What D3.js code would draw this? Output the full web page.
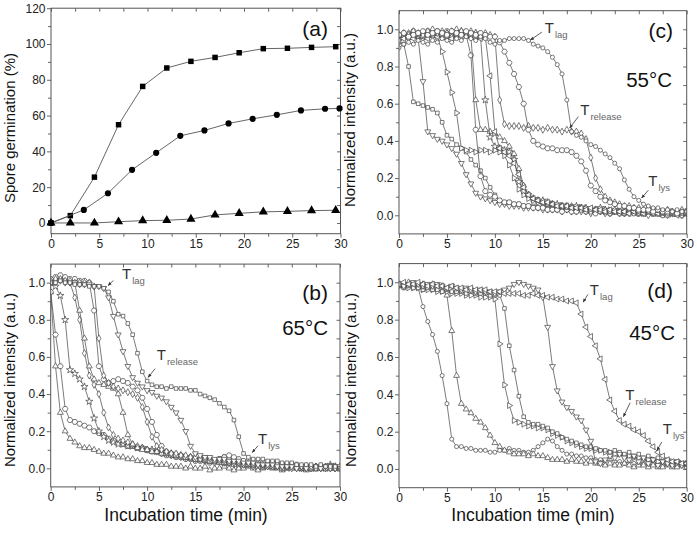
<!DOCTYPE html>
<html><head><meta charset="utf-8">
<script src="https://cdn.jsdelivr.net/npm/d3@7"></script>
<style>body{margin:0;background:#fff}svg{display:block}</style>
</head><body>
<svg id="chart" width="697" height="537"></svg>
<script>
// ---------- DATA ----------
const xTicks = [0, 5, 10, 15, 20, 25, 30];
const xMinorTicks = [2.5, 7.5, 12.5, 17.5, 22.5, 27.5];
const germTicks = [0, 20, 40, 60, 80, 100, 120];
const germMinorTicks = [10, 30, 50, 70, 90, 110];
const intTicks = [0, 0.2, 0.4, 0.6, 0.8, 1.0];
const intMinorTicks = [0.1, 0.3, 0.5, 0.7, 0.9];

// panel (a): spore germination (%)
const sqX = [0, 2, 4.5, 7, 9.5, 12, 14.5, 17, 19.5, 22, 24.5, 27, 29.5];
const sqY = [0, 4.1, 25.6, 54.9, 76.3, 86.6, 90.3, 92.5, 95.1, 97.4, 97.6, 98.1, 98.5];
const ciX = [0, 3.4, 5.9, 8.4, 10.9, 13.4, 15.9, 18.4, 20.9, 23.4, 25.9, 28.4, 29.9];
const ciY = [0, 7.3, 16.6, 29.7, 39.2, 48.7, 51.7, 55.6, 58.2, 60.4, 62.9, 63.8, 64.0];
const trX = [0, 2, 4.5, 7, 9.5, 12, 14.5, 17, 19.5, 22, 24.5, 27, 29.5];
const trY = [0, 0, 0, 0.7, 1.3, 1.5, 2.2, 4.5, 5.4, 6.2, 6.5, 6.9, 7.1];

// time axis of the intensity traces (min)
const times = [0,0.5,1,1.5,2,2.5,3,3.5,4,4.5,5,5.5,6,6.5,7,7.5,8,8.5,9,9.5,10,10.5,11,11.5,12,12.5,13,13.5,14,14.5,15,15.5,16,16.5,17,17.5,18,18.5,19,19.5,20,20.5,21,21.5,22,22.5,23,23.5,24,24.5,25,25.5,26,26.5,27,27.5,28,28.5,29,29.5,30];

// panel (b) 65 °C
const b1 = [.95,.55,.30,.20,.16,.14,.12,.11,.11,.10, .09,.08,.08,.07,.06,.06,.05,.05,.04,.04, .03,.03,.02,.02,.02,.01,.01,.01,.00,.01, .00,.00,.01,-.01,.00,.00,.01,.00,-.01,.00, .00,.01,.00,-.01,.00,.01,.00,.00,-.01,.00, .01,.00,.00,-.01,.00,.01,.00,.00,.01,.00, .00];
const b2 = [.95,.72,.55,.32,.26,.25,.24,.23,.22,.20, .19,.18,.16,.15,.14,.13,.12,.12,.11,.11, .10,.09,.09,.08,.07,.07,.06,.06,.05,.05, .04,.04,.04,.03,.04,.05,.06,.06,.05,.04, .03,.03,.02,.03,.02,.02,.01,.02,.01,.01, .02,.01,.00,.01,.01,.00,.01,.00,.00,.01, .00];
const b3 = [1.00,.98,.93,.80,.53,.51,.48,.44,.36,.27, .20,.17,.15,.14,.13,.13,.12,.12,.11,.11, .10,.10,.09,.09,.08,.08,.07,.07,.06,.06, .05,.05,.05,.04,.04,.04,.03,.03,.03,.02, .03,.02,.02,.02,.01,.02,.01,.01,.01,.00, .01,.01,.00,.01,.00,.00,.01,.00,.02,.01, .00];
const b4 = [1.00,1.01,1.02,1.01,1.00,.92,.80,.62,.50,.45, .40,.30,.22,.18,.16,.15,.14,.13,.12,.11, .10,.10,.09,.08,.08,.07,.07,.06,.06,.05, .05,.05,.04,.04,.03,.04,.03,.03,.02,.03, .02,.02,.01,.02,.01,.01,.02,.01,.00,.01, .01,.00,.00,.01,.00,.01,.00,.00,.01,.00, .00];
const b5 = [1.00,1.02,1.03,1.02,1.01,1.00,.85,.70,.55,.48, .46,.45,.44,.43,.40,.30,.18,.13,.11,.10, .10,.09,.09,.08,.08,.07,.07,.06,.06,.06, .05,.05,.04,.04,.04,.03,.03,.03,.02,.03, .02,.02,.02,.01,.02,.01,.01,.01,.00,.01, .00,.01,.00,.00,.01,.00,.00,.01,.00,.00, .01];
const b6 = [1.02,1.03,1.04,1.03,1.02,1.02,1.01,1.01,1.00,.85, .55,.48,.46,.47,.48,.47,.46,.44,.42,.38, .32,.25,.18,.12,.09,.08,.07,.07,.06,.06, .05,.05,.05,.04,.04,.05,.06,.07,.06,.05, .04,.04,.03,.03,.03,.02,.03,.02,.02,.02, .01,.02,.01,.01,.00,.01,.01,.00,.01,.00, .00];
const b7 = [1.01,1.02,1.02,1.01,1.01,1.00,1.00,1.00,1.00,.98, .70,.50,.46,.44,.43,.42,.41,.40,.38,.33, .25,.17,.12,.10,.09,.08,.08,.07,.07,.06, .06,.05,.05,.05,.04,.04,.04,.03,.03,.03, .02,.03,.02,.02,.02,.01,.01,.02,.01,.01, .00,.01,.01,.00,.00,.01,.00,.01,.00,.00, .01];
const b8 = [1.00,1.00,1.01,1.00,1.00,1.00,.99,.99,.99,.98, .98,.97,.92,.82,.72,.63,.55,.49,.46,.44, .42,.41,.39,.38,.36,.33,.30,.26,.20,.12, .08,.07,.06,.06,.05,.05,.05,.04,.04,.04, .03,.03,.03,.02,.02,.02,.02,.01,.01,.01, .01,.00,.01,.00,.01,.00,.00,.01,.00,.00, .01];
const b9 = [1.00,1.00,1.01,1.00,1.00,.99,.99,.99,.98,.98, .98,.97,.95,.90,.83,.82,.78,.72,.62,.52, .47,.45,.44,.44,.43,.44,.43,.43,.43,.42, .42,.40,.39,.38,.37,.35,.33,.31,.26,.17, .08,.06,.05,.05,.05,.04,.04,.04,.03,.03, .03,.02,.02,.02,.02,.01,.02,.01,.01,.01, .00];

// panel (c) 55 °C
const c1 = [.93,.92,.80,.61,.60,.59,.58,.57,.55,.50, .43,.41,.38,.36,.34,.30,.27,.24,.20,.15, .11,.08,.07,.07,.06,.06,.05,.05,.05,.04, .04,.04,.03,.04,.03,.03,.03,.02,.03,.02, .02,.03,.02,.02,.01,.02,.02,.01,.02,.01, .01,.02,.01,.01,.01,.00,.01,.01,.02,.01, .01];
const c2 = [.95,.96,.95,.96,.95,.72,.45,.43,.41,.40, .38,.36,.33,.28,.22,.17,.12,.10,.09,.08, .07,.06,.06,.05,.05,.05,.04,.04,.04,.04, .03,.03,.03,.03,.02,.03,.02,.02,.02,.02, .01,.02,.02,.01,.01,.02,.01,.01,.01,.02, .01,.01,.00,.01,.01,.01,.00,.01,.01,.00, .01];
const c3 = [.97,.96,.97,.98,.96,.97,.98,.97,.96,.88, .77,.66,.55,.36,.35,.35,.34,.35,.35,.34, .35,.34,.32,.27,.20,.14,.11,.09,.08,.07, .07,.06,.06,.05,.05,.05,.04,.04,.04,.04, .03,.03,.03,.02,.03,.02,.02,.03,.02,.02, .01,.02,.02,.01,.02,.01,.01,.02,.01,.01, .02];
const c4 = [.96,.98,.97,.99,.98,.97,.99,.98,.99,.98, .99,.98,.98,.97,.97,.86,.46,.21,.13,.11, .10,.08,.07,.07,.06,.06,.05,.05,.04,.04, .04,.03,.03,.03,.02,.03,.02,.02,.03,.02, .02,.01,.02,.02,.01,.02,.01,.01,.02,.01, .01,.01,.02,.01,.01,.00,.01,.01,.01,.00, .01];
const c5 = [.95,.96,.98,.97,.96,.98,.97,.99,.98,.97, .98,.96,.97,.98,.97,.96,.62,.46,.46,.45, .44,.42,.40,.37,.33,.25,.16,.11,.09,.08, .07,.06,.06,.05,.05,.04,.05,.04,.04,.03, .03,.03,.02,.03,.02,.02,.02,.01,.02,.02, .01,.01,.02,.01,.01,.01,.00,.01,.01,.02, .01];
const c6 = [.96,.97,.96,.98,.97,.96,.98,.97,.98,.97, .96,.98,.97,.99,.98,.97,.98,.96,.62,.42, .37,.36,.35,.34,.30,.18,.13,.11,.09,.08, .08,.07,.06,.06,.05,.05,.04,.05,.04,.04, .03,.03,.04,.03,.02,.03,.02,.02,.03,.02, .02,.01,.02,.02,.01,.01,.02,.01,.01,.01, .02];
const c7 = [.94,.95,.96,.95,.97,.96,.95,.97,.96,.97, .96,.95,.97,.96,.98,.97,.96,.95,.96,.75, .45,.36,.34,.32,.28,.22,.15,.11,.09,.08, .07,.07,.06,.05,.05,.05,.04,.04,.04,.03, .04,.03,.03,.02,.03,.02,.02,.02,.01,.02, .02,.01,.02,.01,.01,.02,.01,.01,.00,.01, .01];
const c8 = [.97,.98,.97,.99,.98,.97,.99,1.00,.98,.99, .98,.99,1.00,.99,.98,.99,.98,.97,.98,.97, .96,.62,.49,.48,.48,.48,.47,.48,.47,.47, .46,.47,.46,.46,.45,.46,.45,.45,.44,.41, .31,.20,.14,.10,.08,.07,.06,.05,.05,.04, .04,.03,.04,.03,.03,.02,.03,.02,.02,.03, .02];
const c9 = [.97,.98,.96,.97,.98,.99,.97,.98,.99,.98, .97,.99,.98,.97,.99,.98,.97,.98,.97,.96, .96,.93,.88,.82,.76,.69,.60,.46,.40,.38, .37,.36,.36,.35,.35,.35,.34,.32,.29,.24, .16,.13,.10,.08,.07,.06,.05,.05,.04,.04, .03,.03,.03,.02,.03,.02,.02,.02,.01,.02, .02];
const c10 = [.90,.92,.93,.92,.94,.93,.92,.94,.93,.95, .94,.93,.95,.94,.96,.95,.94,.96,.95,.93, .92,.94,.94,.95,.95,.95,.95,.94,.92,.91, .90,.88,.85,.81,.76,.62,.45,.43,.42,.40, .38,.37,.35,.33,.31,.28,.25,.19,.14,.10, .08,.06,.05,.04,.04,.03,.03,.02,.03,.02, .02];

// panel (d) 45 °C
const d1 = [.98,.97,.99,.98,.97,.87,.79,.72,.63,.50, .35,.16,.12,.12,.11,.11,.10,.10,.10,.09, .09,.10,.10,.11,.10,.10,.09,.09,.10,.12, .14,.16,.15,.12,.10,.08,.08,.07,.07,.06, .06,.05,.05,.04,.05,.04,.04,.03,.04,.03, .03,.03,.02,.03,.02,.02,.03,.02,.02,.02, .02];
const d2 = [.99,.98,1.00,.99,.98,.99,.98,.99,.98,.98, .93,.74,.50,.35,.32,.30,.27,.25,.22,.18, .14,.12,.10,.09,.08,.08,.08,.07,.08,.07, .07,.06,.05,.05,.05,.04,.05,.04,.04,.03, .04,.03,.03,.02,.03,.02,.02,.03,.02,.01, .02,.02,.01,.02,.01,.01,.02,.01,.01,.02, .01];
const d3v = [.98,.98,.97,.97,.97,.96,.96,.96,.95,.95, .95,.94,.94,.94,.93,.93,.93,.92,.92,.92, .91,.67,.45,.34,.26,.25,.24,.23,.23,.22, .22,.21,.19,.18,.17,.15,.14,.13,.12,.11, .11,.10,.10,.09,.09,.08,.08,.07,.07,.06, .06,.05,.05,.05,.04,.04,.03,.04,.03,.03, .03];
const d4 = [.98,.97,.98,.97,.97,.96,.97,.96,.96,.95, .96,.95,.95,.95,.94,.95,.94,.94,.94,.93, .93,.93,.86,.66,.53,.39,.28,.25,.24,.24, .23,.22,.20,.19,.17,.16,.15,.14,.13,.12, .12,.11,.10,.10,.09,.10,.09,.08,.09,.07, .08,.06,.07,.05,.06,.04,.05,.03,.04,.03, .03];
const d5 = [.99,.98,.99,1.00,.99,.98,.99,.98,.99,.98, .97,.98,.97,.96,.97,.96,.95,.96,.95,.95, .94,.95,.96,.97,.99,1.00,.99,.98,.97,.96, .92,.76,.55,.42,.36,.33,.31,.28,.26,.21, .15,.04,.03,.05,.07,.06,.08,.06,.05,.07, .04,.06,.03,.05,.02,.04,.03,.02,.04,.02, .03];
const d6 = [.99,1.00,.99,.99,1.00,.99,.98,.99,.98,.98, .97,.98,.97,.97,.96,.97,.96,.96,.96,.95, .95,.95,.94,.94,.94,.94,.93,.93,.94,.93, .93,.92,.92,.91,.91,.90,.90,.89,.83,.76, .71,.66,.59,.48,.37,.31,.26,.24,.23,.21, .20,.18,.15,.12,.09,.07,.05,.04,.04,.03, .03];

// ---------- DRAWING ----------
const FONT = '"Liberation Sans", Arial, Helvetica, sans-serif';
const INK = "#333";
const svg = d3.select("#chart").style("font-family", FONT);

const hexagon = { draw(ctx, size) {
  const r = Math.sqrt(2 * size / (3 * Math.sqrt(3)));
  for (let i = 0; i < 6; i++) {
    const a = Math.PI / 3 * i;
    const px = r * Math.cos(a), py = r * Math.sin(a);
    if (i === 0) ctx.moveTo(px, py); else ctx.lineTo(px, py);
  }
  ctx.closePath();
}};
const SYM = {
  circle: [d3.symbolCircle, 0, 13],
  hex: [hexagon, 0, 20],
  square: [d3.symbolSquare, 0, 13],
  triUp: [d3.symbolTriangle, 0, 15],
  triDown: [d3.symbolTriangle, 180, 15],
  triLeft: [d3.symbolTriangle, -90, 15],
  triRight: [d3.symbolTriangle, 90, 15],
  diamond: [d3.symbolDiamond, 0, 14],
  star: [d3.symbolStar, 0, 16]
};

function makePanel(L, ydom) {
  const x = d3.scaleLinear().domain([0, 30]).range([L.left, L.right]);
  const y = d3.scaleLinear().domain(ydom).range([L.bottom, L.top]);
  const g = svg.append("g");
  return { x, y, g, L };
}

function drawAxes(P, yMajor, yMinor, yFmt) {
  const { x, y, g, L } = P;
  const style = sel => {
    sel.select(".domain").remove();
    sel.selectAll("line").attr("stroke", "#555").attr("stroke-width", 0.9);
    sel.selectAll("text").attr("font-size", 12).attr("fill", "#222").attr("font-family", FONT);
  };
  g.append("g").attr("transform", `translate(0,${L.bottom})`)
    .call(d3.axisBottom(x).tickValues(xTicks).tickSize(4).tickPadding(1.5).tickFormat(d3.format("d"))).call(style);
  g.append("g").attr("transform", `translate(0,${L.bottom})`)
    .call(d3.axisBottom(x).tickValues(xMinorTicks).tickSize(3).tickFormat("")).call(style);
  g.append("g").attr("transform", `translate(0,${L.top})`)
    .call(d3.axisTop(x).tickValues(xTicks.concat(xMinorTicks)).tickSize(-3.5).tickFormat("")).call(style);
  g.append("g").attr("transform", `translate(${L.left},0)`)
    .call(d3.axisLeft(y).tickValues(yMajor).tickSize(4).tickPadding(1.5).tickFormat(yFmt)).call(style);
  g.append("g").attr("transform", `translate(${L.left},0)`)
    .call(d3.axisLeft(y).tickValues(yMinor).tickSize(3).tickFormat("")).call(style);
  g.append("g").attr("transform", `translate(${L.right},0)`)
    .call(d3.axisRight(y).tickValues(yMajor.concat(yMinor)).tickSize(-3.5).tickFormat("")).call(style);
  g.append("rect").attr("x", L.left).attr("y", L.top)
    .attr("width", L.right - L.left).attr("height", L.bottom - L.top)
    .attr("fill", "none").attr("stroke", "#555").attr("stroke-width", 1);
}

function drawTraces(P, list) {
  const { x, y, g } = P;
  const clipId = "clip" + Math.round(P.L.left) + Math.round(P.L.top);
  svg.append("clipPath").attr("id", clipId).append("rect")
    .attr("x", P.L.left).attr("y", P.L.top).attr("width", P.L.right - P.L.left).attr("height", P.L.bottom - P.L.top);
  const layer = g.append("g").attr("clip-path", `url(#${clipId})`);
  const line = d3.line().x((d, i) => x(times[i])).y(d => y(d));
  list.forEach(([vals, symName]) => {
    const [type, rot, size] = SYM[symName];
    const cg = layer.append("g");
    cg.append("path").attr("d", line(vals)).attr("fill", "none").attr("stroke", "#444").attr("stroke-width", 0.7);
    cg.selectAll("path.m").data(vals).join("path").attr("class", "m")
      .attr("d", d3.symbol().type(type).size(size))
      .attr("transform", (d, i) => `translate(${x(times[i])},${y(d)}) rotate(${rot})`)
      .attr("fill", "#fff").attr("stroke", "#444").attr("stroke-width", 0.7);
  });
}

// arrow marker
svg.append("defs").append("marker").attr("id", "arr").attr("viewBox", "0 0 10 10")
  .attr("refX", 9).attr("refY", 5).attr("markerWidth", 5).attr("markerHeight", 5).attr("orient", "auto")
  .append("path").attr("d", "M0,1 L10,5 L0,9 Z").attr("fill", "#333");

function annotate(P, items) {
  const { x, y, g } = P;
  items.forEach(a => {
    const t = g.append("text").attr("x", x(a.tx)).attr("y", y(a.ty)).attr("fill", INK).attr("font-size", 15);
    t.append("tspan").text("T");
    t.append("tspan").attr("dx", 1).attr("dy", 5).attr("font-size", 9.5).attr("fill", "#666").text(a.sub);
    g.append("line").attr("x1", x(a.ax1)).attr("y1", y(a.ay1)).attr("x2", x(a.ax2)).attr("y2", y(a.ay2))
      .attr("stroke", "#333").attr("stroke-width", 0.8).attr("marker-end", "url(#arr)");
  });
}

function label(P, txt, px, py, size) {
  P.g.append("text").attr("x", px).attr("y", py).attr("text-anchor", "end")
    .attr("font-size", size).attr("fill", "#111").text(txt);
}

// ----- panel (a)
const A = makePanel({ left: 51, right: 340.5, top: 8.2, bottom: 233.7 }, [-6, 120]);
drawAxes(A, germTicks, germMinorTicks, d3.format("d"));
(function () {
  const { x, y, g } = A;
  const series = [[sqX, sqY, d3.symbolSquare, 30], [ciX, ciY, d3.symbolCircle, 30], [trX, trY, d3.symbolTriangle, 36]];
  series.forEach(([xs, ys, type, size]) => {
    const pts = xs.map((v, i) => [v, ys[i]]);
    g.append("path").attr("d", d3.line().x(d => x(d[0])).y(d => y(d[1]))(pts))
      .attr("fill", "none").attr("stroke", "#555").attr("stroke-width", 0.9);
    g.selectAll(null).data(pts).join("path").attr("d", d3.symbol().type(type).size(size))
      .attr("transform", d => `translate(${x(d[0])},${y(d[1])})`).attr("fill", "#000");
  });
})();
label(A, "(a)", 328, 36, 21);

// ----- panel (b)
const B = makePanel({ left: 50.7, right: 340, top: 264.1, bottom: 486.9 }, [-0.1, 1.1]);
drawTraces(B, [[b1, "triUp"], [b2, "hex"], [b3, "star"], [b4, "diamond"], [b5, "triUp"], [b6, "hex"], [b7, "diamond"], [b8, "triDown"], [b9, "square"]]);
drawAxes(B, intTicks, intMinorTicks, d3.format(".1f"));
annotate(B, [
  { sub: "lag", tx: 7.4, ty: 1.02, ax1: 6.5, ay1: 1.012, ax2: 5.95, ay2: 0.985 },
  { sub: "release", tx: 11.0, ty: 0.585, ax1: 10.83, ay1: 0.537, ax2: 10.1, ay2: 0.49 },
  { sub: "lys", tx: 21.5, ty: 0.13, ax1: 21.5, ay1: 0.122, ax2: 20.9, ay2: 0.085 }
]);
label(B, "(b)", 328, 300, 21);
label(B, "65°C", 328, 335, 20.5);

// ----- panel (c)
const C = makePanel({ left: 399, right: 686.7, top: 10.7, bottom: 233.9 }, [-0.1, 1.1]);
drawTraces(C, [[c1, "square"], [c2, "triDown"], [c3, "triRight"], [c4, "hex"], [c5, "triUp"], [c6, "star"], [c7, "triLeft"], [c8, "diamond"], [c9, "hex"], [c10, "circle"]]);
drawAxes(C, intTicks, intMinorTicks, d3.format(".1f"));
annotate(C, [
  { sub: "lag", tx: 15.2, ty: 0.98, ax1: 14.9, ay1: 0.985, ax2: 13.7, ay2: 0.942 },
  { sub: "release", tx: 18.9, ty: 0.54, ax1: 18.7, ay1: 0.53, ax2: 17.8, ay2: 0.47 },
  { sub: "lys", tx: 26.0, ty: 0.16, ax1: 26.0, ay1: 0.135, ax2: 25.3, ay2: 0.093 }
]);
label(C, "(c)", 673, 38, 21);
label(C, "55°C", 672, 87, 20.5);

// ----- panel (d)
const D = makePanel({ left: 399, right: 686.7, top: 263.6, bottom: 487.7 }, [-0.1, 1.1]);
drawTraces(D, [[d1, "circle"], [d2, "triUp"], [d3v, "triRight"], [d4, "square"], [d5, "triDown"], [d6, "triLeft"]]);
drawAxes(D, intTicks, intMinorTicks, d3.format(".1f"));
annotate(D, [
  { sub: "lag", tx: 19.9, ty: 0.93, ax1: 19.7, ay1: 0.935, ax2: 19.2, ay2: 0.894 },
  { sub: "release", tx: 23.6, ty: 0.37, ax1: 24.1, ay1: 0.355, ax2: 23.4, ay2: 0.28 },
  { sub: "lys", tx: 27.5, ty: 0.19, ax1: 27.4, ay1: 0.145, ax2: 26.9, ay2: 0.10 }
]);
label(D, "(d)", 673, 298, 21);
label(D, "45°C", 675, 340, 20.5);

// ----- axis titles
function vtitle(txt, px, py) {
  svg.append("text").attr("transform", `translate(${px},${py}) rotate(-90)`).attr("text-anchor", "middle")
    .attr("font-size", 15).attr("fill", "#111").text(txt);
}
vtitle("Spore germination (%)", 15, 128);
vtitle("Normalized intensity (a.u.)", 15, 380);
vtitle("Normalized intensity (a.u.)", 355, 120);
vtitle("Normalized intensity (a.u.)", 356, 380);
function htitle(txt, px, py) {
  svg.append("text").attr("x", px).attr("y", py).attr("text-anchor", "middle")
    .attr("font-size", 17.5).attr("fill", "#111").text(txt);
}
htitle("Incubation time (min)", 186, 521);
htitle("Incubation time (min)", 533, 521);
</script>
</body></html>
